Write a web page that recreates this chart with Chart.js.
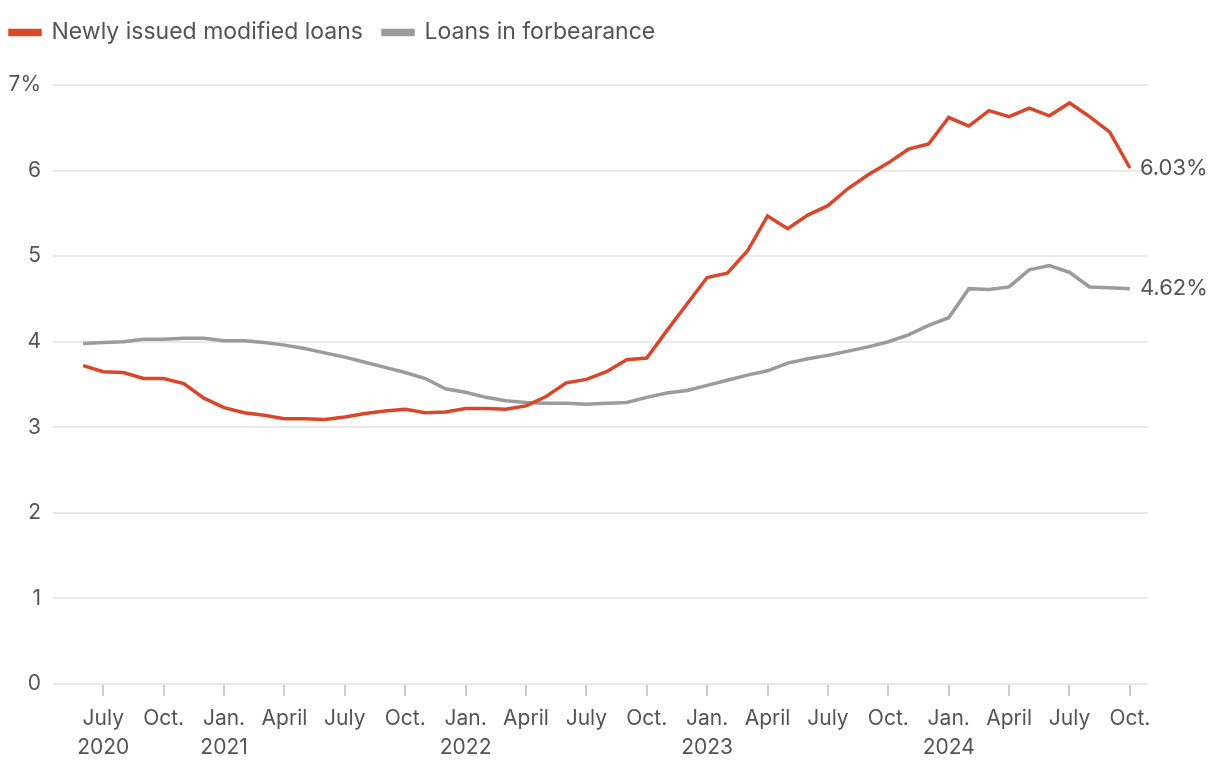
<!DOCTYPE html>
<html>
<head>
<meta charset="utf-8">
<script src="https://cdn.jsdelivr.net/npm/chart.js@4.4.1/dist/chart.umd.min.js"></script>
<style>
  html, body { margin: 0; padding: 0; background: #fff; }
  #wrap { position: absolute; left: 0; top: 0; width: 1220px; height: 778px; }
</style>
</head>
<body>
<div id="wrap"><canvas id="c" width="1220" height="778"></canvas></div>
<script>
// Monthly observations, June 2020 .. Oct. 2024
const months = [
  "2020-06","2020-07","2020-08","2020-09","2020-10","2020-11","2020-12",
  "2021-01","2021-02","2021-03","2021-04","2021-05","2021-06","2021-07","2021-08","2021-09","2021-10","2021-11","2021-12",
  "2022-01","2022-02","2022-03","2022-04","2022-05","2022-06","2022-07","2022-08","2022-09","2022-10","2022-11","2022-12",
  "2023-01","2023-02","2023-03","2023-04","2023-05","2023-06","2023-07","2023-08","2023-09","2023-10","2023-11","2023-12",
  "2024-01","2024-02","2024-03","2024-04","2024-05","2024-06","2024-07","2024-08","2024-09","2024-10"
];
const newlyModified = [
  3.72,3.65,3.64,3.57,3.57,3.51,3.34,
  3.23,3.17,3.14,3.10,3.10,3.09,3.12,3.16,3.19,3.21,3.17,3.18,
  3.22,3.22,3.21,3.25,3.36,3.52,3.56,3.65,3.79,3.81,4.13,4.44,
  4.75,4.80,5.06,5.47,5.32,5.48,5.59,5.79,5.95,6.09,6.25,6.31,
  6.62,6.52,6.70,6.63,6.73,6.64,6.79,6.63,6.45,6.03
];
const forbearance = [
  3.98,3.99,4.00,4.03,4.03,4.04,4.04,
  4.01,4.01,3.99,3.96,3.92,3.87,3.82,3.76,3.70,3.64,3.57,3.45,
  3.41,3.35,3.31,3.29,3.28,3.28,3.27,3.28,3.29,3.35,3.40,3.43,
  3.49,3.55,3.61,3.66,3.75,3.80,3.84,3.89,3.94,4.00,4.08,4.19,
  4.28,4.62,4.61,4.64,4.84,4.89,4.81,4.64,4.63,4.62
];
const seriesNames = ["Newly issued modified loans", "Loans in forbearance"];
const seriesColors = ["#d8472b", "#9b9b9b"];
// x-axis ticks (month index into `months`) and their labels
const tickIndex  = [1,4,7,10,13,16,19,22,25,28,31,34,37,40,43,46,49,52];
const tickMonth  = ["July","Oct.","Jan.","April","July","Oct.","Jan.","April","July","Oct.","Jan.","April","July","Oct.","Jan.","April","July","Oct."];
const tickYear   = ["2020","","2021","","","","2022","","","","2023","","","","2024","","",""];
const yTicks = [0,1,2,3,4,5,6,7];

const FONT = "Inter, 'Noto Sans', sans-serif";
const TEXT = "#545454";

const endLabels = {
  id: 'endLabels',
  afterDatasetsDraw(chart) {
    const ctx = chart.ctx;
    ctx.save();
    ctx.font = "22px " + FONT;
    ctx.fillStyle = TEXT;
    ctx.textAlign = 'left';
    ctx.textBaseline = 'middle';
    chart.data.datasets.forEach((ds, di) => {
      const meta = chart.getDatasetMeta(di);
      const pt = meta.data[meta.data.length - 1];
      const v = ds.data[ds.data.length - 1].y;
      ctx.fillText(v.toFixed(2) + '%', pt.x + 10, pt.y);
    });
    ctx.restore();
  }
};
const legendSpace = {
  id: 'legendSpace',
  beforeInit(chart) {
    const lg = chart.legend;
    const origFit = lg.fit;
    lg.fit = function () { origFit.call(this); this.height += 31; };
    const origDraw = lg.draw;
    lg.draw = function () {
      const ctx = this.ctx;
      ctx.save(); ctx.translate(-10, 0);
      origDraw.call(this);
      ctx.restore();
    };
  }
};

const toPoints = arr => arr.map((v, i) => ({ x: i, y: v }));

new Chart(document.getElementById('c'), {
  type: 'line',
  data: {
    datasets: [
      { label: seriesNames[0], data: toPoints(newlyModified), borderColor: seriesColors[0], backgroundColor: seriesColors[0], borderWidth: 3.5, pointRadius: 0, tension: 0 },
      { label: seriesNames[1], data: toPoints(forbearance), borderColor: seriesColors[1], backgroundColor: seriesColors[1], borderWidth: 3.5, pointRadius: 0, tension: 0 }
    ]
  },
  options: {
    responsive: false,
    animation: false,
    events: [],
    layout: { padding: { top: 1, right: 72, left: 0, bottom: 0 } },
    plugins: {
      legend: {
        display: true, position: 'top', align: 'start',
        labels: { boxWidth: 30, boxHeight: 4, padding: 20, color: TEXT, font: { family: FONT, size: 23 } }
      },
      tooltip: { enabled: false }
    },
    scales: {
      x: {
        type: 'linear', min: -1, max: 52.9,
        afterBuildTicks(scale) { scale.ticks = tickIndex.map(v => ({ value: v })); },
        afterFit(scale) { scale.height = 94; },
        ticks: {
          autoSkip: false, maxRotation: 0, color: TEXT, padding: 9,
          font: { family: FONT, size: 21, lineHeight: 1.35 },
          callback(value) {
            const k = tickIndex.indexOf(value);
            if (k < 0) return '';
            return tickYear[k] ? [tickMonth[k], tickYear[k]] : tickMonth[k];
          }
        },
        grid: { drawOnChartArea: false, drawTicks: true, tickLength: 12, color: '#cccccc', lineWidth: 2 },
        border: { display: false }
      },
      y: {
        min: 0, max: 7,
        afterBuildTicks(scale) { scale.ticks = yTicks.map(v => ({ value: v })); },
        afterFit(scale) { scale.width = 63; },
        ticks: {
          color: TEXT, padding: 12,
          font: { family: FONT, size: 21 },
          callback(v) { return v === 7 ? v + '%' : String(v); }
        },
        grid: { color: '#e9e9e9', lineWidth: 2, tickLength: 10 },
        border: { display: false }
      }
    }
  },
  plugins: [endLabels, legendSpace]
});
</script>
</body>
</html>
